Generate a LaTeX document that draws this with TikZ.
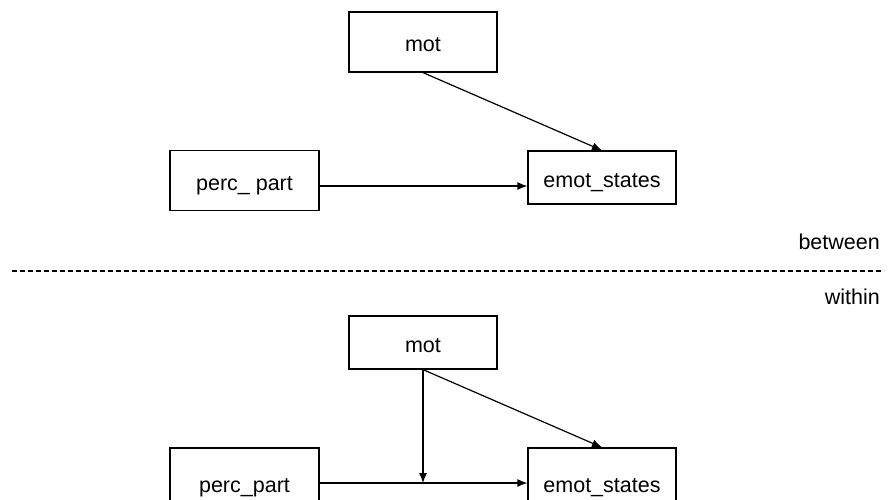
\documentclass[tikz,border=0pt]{standalone}
\usepackage{fontspec}
\setmainfont{Liberation Sans}
\usetikzlibrary{arrows.meta}
\begin{document}
\begin{tikzpicture}[x=1pt,y=-1pt,
  box/.style={draw, line width=1.2pt, minimum height=#1, inner sep=0pt, text height=19pt, text depth=0pt, font=\fontsize{21.5}{25}\selectfont},
  box/.default=60pt,
  conn/.style={line width=1.2pt, -{Latex[length=10pt,width=8pt]}},
  lbl/.style={font=\fontsize{21.5}{25}\selectfont, anchor=east, inner sep=0pt}]
\useasboundingbox (0,0) rectangle (890,499);
% between
\node[box=60pt, minimum width=148pt] (m1) at (423,42) {mot};
\node[box=60pt, minimum width=149pt] (p1) at (244.5,180.5) {perc\_ part};
\node[box=53pt, minimum width=148pt] (e1) at (602,177.5) {emot\_states};
\draw[conn] (m1.south) -- (e1.north);
\draw[conn] (p1.east |- 0,186) coordinate (p1o) -- (e1.west |- p1o);
% separator
\coordinate (dl) at (12,271);
\coordinate (dr) at (884,271);
\draw[line width=1.1pt, dash pattern=on 5pt off 3pt] (dl) -- (dr);
\node[lbl] (bt) at (880,242) {between};
\node[lbl] (wi) at (880,297) {within};
% within
\node[box=53pt, minimum width=148pt] (m2) at (423,342.5) {mot};
\node[box=70pt, minimum width=149pt] (p2) at (244.5,483) {perc\_part};
\node[box=70pt, minimum width=148pt] (e2) at (602,483) {emot\_states};
\coordinate (j) at (423,483);
\draw[conn] (m2.south) -- (e2.north);
\draw[conn] (p2.east |- j) -- (e2.west |- j);
\draw[conn] (m2.south) -- (j);
\end{tikzpicture}
\end{document}
